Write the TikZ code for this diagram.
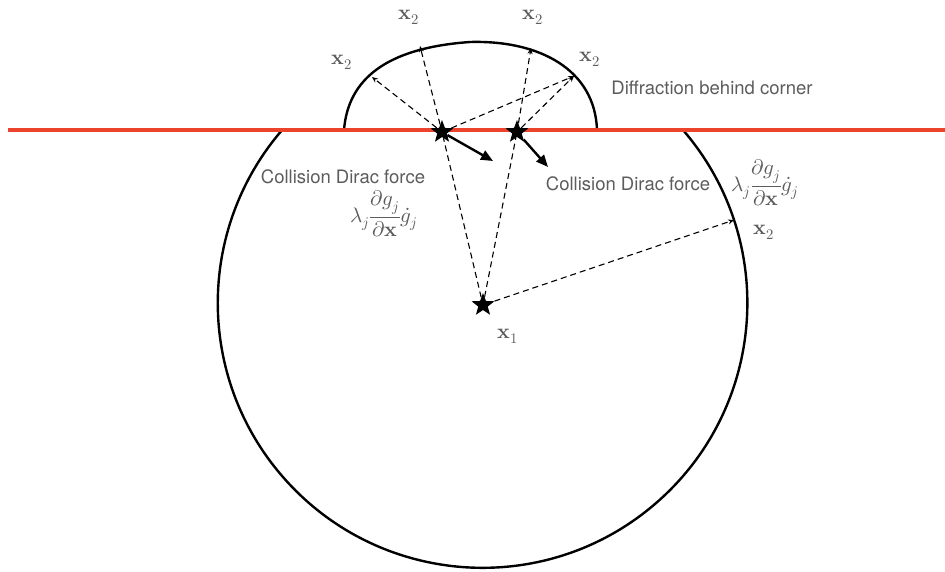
\documentclass[tikz,border=0pt]{standalone}
\usepackage{fontspec}
\usepackage{unicode-math}
\setmainfont{TeX Gyre Heros}
\usetikzlibrary{shapes.geometric,arrows.meta}
\definecolor{wallred}{RGB}{236,68,44}
\definecolor{txtgray}{RGB}{92,92,92}
\begin{document}
\begin{tikzpicture}[x=1pt,y=-1pt,
  lbl/.style={text=txtgray,font=\fontsize{18.5}{22}\selectfont,inner sep=0pt},
  mlbl/.style={text=txtgray,font=\fontsize{21}{24}\selectfont,inner sep=0pt},
  starnode/.style={star,star points=5,star point ratio=2.4,fill=black,inner sep=0pt,minimum size=24pt},
  ray/.style={dash pattern=on 6pt off 4pt,line width=1.1pt,-{Stealth[length=6pt,width=5pt]}},
  ray0/.style={dash pattern=on 6pt off 4pt,line width=1.1pt},
  force/.style={line width=2.4pt,-{Triangle[length=12pt,width=10pt]}},
  boundary/.style={line width=2.4pt}]
\useasboundingbox (0,0) rectangle (945,571);
% big circular boundary
\draw[boundary] (683,130) arc[start angle=-40.8, end angle=220.8, radius=264.8];
% bump above the wall
\draw[boundary] (344,130) .. controls (348,80) and (385,48) .. (470,42)
  .. controls (540,40) and (595,70) .. (597,130);
% wall
\draw[wallred, line width=4pt] (8,130) -- (945,130);
% stars
\node[starnode] (sA) at (442,132) {};
\node[starnode] (sB) at (517,132) {};
\node[starnode] (x1s) at (483,305) {};
% ray tips
\coordinate (tL) at (372,77);
\coordinate (tTL) at (420,46);
\coordinate (tTR) at (531,48);
\coordinate (tR) at (574,76);
\coordinate (tC) at (734,220);
\coordinate (fA) at (493,161);
\coordinate (fB) at (548,167);
% dashed rays
\draw[ray] (sA) -- (tL);
\draw[ray] (sA) -- (tTL);
\draw[ray] (sA) -- (tR);
\draw[ray] (sB) -- (tTR);
\draw[ray] (sB) -- (tR);
\draw[ray0] (x1s) -- (sA);
\draw[ray0] (x1s) -- (sB);
\draw[ray] (x1s) -- (tC);
% force arrows
\draw[force] (sA) -- (fA);
\draw[force] (sB) -- (fB);
% labels
\node[lbl] (diff) at (712,88) {Diffraction behind corner};
\node[lbl] (c1) at (343,177) {Collision Dirac force};
\node[lbl] (c2) at (628,184) {Collision Dirac force};
\node[mlbl] (f1) at (384,214) {$\lambda_j\dfrac{\partial g_j}{\partial \symbf{x}}\dot{g}_j$};
\node[mlbl] (f2) at (765,183) {$\lambda_j\dfrac{\partial g_j}{\partial \symbf{x}}\dot{g}_j$};
\node[mlbl] (l1) at (409,17) {$\symbf{x}_2$};
\node[mlbl] (l2) at (533,17) {$\symbf{x}_2$};
\node[mlbl] (l3) at (342,62) {$\symbf{x}_2$};
\node[mlbl] (l4) at (590,59) {$\symbf{x}_2$};
\node[mlbl] (l5) at (764,232) {$\symbf{x}_2$};
\node[mlbl] (l6) at (508,336) {$\symbf{x}_1$};
\end{tikzpicture}
\end{document}
